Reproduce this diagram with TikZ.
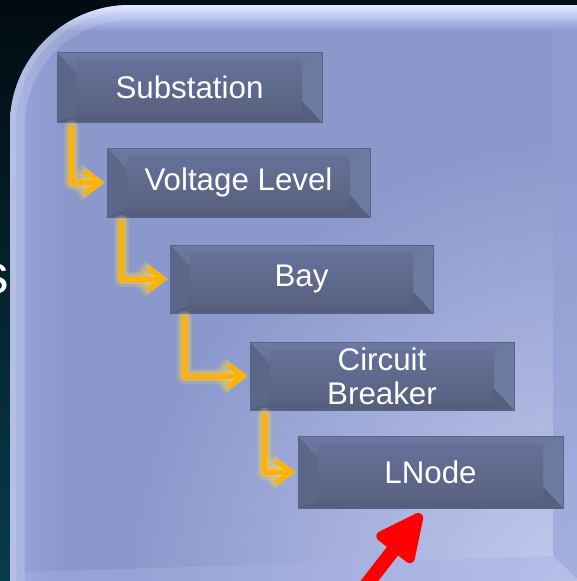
\documentclass[tikz,border=0pt]{standalone}
\usepackage{fontspec}
\setmainfont{Liberation Sans}
\usetikzlibrary{arrows.meta,calc}
\definecolor{bgtop}{HTML}{010B10}
\definecolor{bgbot}{HTML}{083B4B}
\definecolor{panelbase}{HTML}{8A98CC}
\definecolor{paneltopA}{HTML}{D4E0FF}
\definecolor{paneltopB}{HTML}{8E9DD4}
\definecolor{panelleft}{HTML}{9AA7DD}
\definecolor{panelright}{HTML}{909ED3}
\definecolor{panelbottom}{HTML}{A7B2E4}
\definecolor{panelglow}{HTML}{C6CDEE}
\definecolor{boxedge}{HTML}{59638A}
\definecolor{midT}{HTML}{66719A}
\definecolor{midB}{HTML}{58617F}
\definecolor{faceT1}{HTML}{6E79A1}
\definecolor{faceT2}{HTML}{67729A}
\definecolor{faceL}{HTML}{5B6688}
\definecolor{faceR}{HTML}{6D7A9F}
\definecolor{faceB}{HTML}{565F7D}
\definecolor{orangec}{HTML}{FFB300}
\definecolor{orglowc}{HTML}{FFD44A}
\tikzset{
  bev/.style={rectangle, inner sep=0pt, minimum width=264pt, minimum height=69pt,
    text=white, font=\fontsize{31.3}{34}\selectfont, align=center,
    draw=boxedge, line width=.8pt, fill=midB,
    path picture={
      \coordinate (bNW) at (path picture bounding box.north west);
      \coordinate (bNE) at (path picture bounding box.north east);
      \coordinate (bSW) at (path picture bounding box.south west);
      \coordinate (bSE) at (path picture bounding box.south east);
      \fill[faceL] (bNW) -- (bSW) -- ($(bSW)+(20pt,8pt)$) -- ($(bNW)+(20pt,-22pt)$) -- cycle;
      \fill[faceR] (bNE) -- (bSE) -- ($(bSE)+(-20pt,22pt)$) -- ($(bNE)+(-20pt,-8pt)$) -- cycle;
      \shade[top color=faceT1, bottom color=faceT2] (bNW) -- (bNE) -- ($(bNE)+(-20pt,-8pt)$) -- ($(bNW)+(20pt,-22pt)$) -- cycle;
      \fill[faceB] (bSW) -- (bSE) -- ($(bSE)+(-20pt,22pt)$) -- ($(bSW)+(20pt,8pt)$) -- cycle;
      \shade[top color=midT, bottom color=midB] ($(bNW)+(20pt,-8pt)$) rectangle ($(bSE)+(-20pt,8pt)$);
      \fill[faceL] (bNW) -- ($(bNW)+(0pt,-40pt)$) -- ($(bNW)+(20pt,-22pt)$) -- cycle;
      \fill[faceR] (bSE) -- ($(bSE)+(0pt,40pt)$) -- ($(bSE)+(-20pt,22pt)$) -- cycle;
    }},
  orglowA/.style={draw=orglowc, opacity=.22, line width=15pt, line cap=round, line join=round,
    -{Straight Barb[length=15pt,width=24pt]}, shorten >=2pt},
  orglowB/.style={draw=orglowc, opacity=.35, line width=10pt, line cap=round, line join=round,
    -{Straight Barb[length=15pt,width=23pt]}, shorten >=2pt},
  orarrow/.style={draw=orangec, line width=5pt, line cap=round, line join=miter,
    -{Straight Barb[length=15pt,width=22pt]}, shorten >=2pt},
  redshaft/.style={draw=red, line width=14pt, line cap=round},
  redhead/.style={draw=red, fill=red, line width=10pt, line join=round}
}
\begin{document}
\begin{tikzpicture}[x=1pt,y=-1pt]
\useasboundingbox (0,0) rectangle (577,581);
\clip (0,0) rectangle (577,581);
% background
\shade[top color=bgtop, bottom color=bgbot] (0,0) rectangle (577,581);
\node[font=\fontsize{55}{60}\selectfont, text=white, anchor=base east, inner sep=0pt] (stext) at (9,293) {s};
% panel
\fill[panelbase, rounded corners=120pt] (10,5) rectangle (720,720);
\begin{scope}
  \clip[rounded corners=120pt] (10,5) rectangle (720,720);
  \shade[inner color=panelglow, outer color=panelbase] (130,140) rectangle (1050,1060);
  \shade[left color=panelleft, right color=panelbase] (10,0) rectangle (60,600);
  \fill[panelleft] (10,0) rectangle (24,600);
  \fill[panelright, opacity=.6] (553,30) -- (600,-17) -- (600,600) -- (553,556) -- cycle;
  \fill[panelbottom, opacity=.45] (0,600) -- (25,572) -- (553,556) -- (600,600) -- cycle;
  \shade[top color=paneltopA, bottom color=paneltopB] (0,5) -- (600,5) -- (577,30) -- (25,30) -- cycle;
  \draw[white, opacity=.15, line width=30pt, rounded corners=120pt] (10,5) rectangle (720,720);
  \draw[white, opacity=.15, line width=12pt, rounded corners=120pt] (10,5) rectangle (720,720);
\end{scope}
% boxes
\node[bev, minimum width=265pt, minimum height=70pt] (sub) at (189.5,87.5) {Substation};
\node[bev, minimum width=263pt] (vl) at (238.5,182.5) {Voltage Level};
\node[bev, minimum width=263pt, minimum height=68pt] (bay) at (301.5,279) {Bay};
\node[bev, minimum width=264pt, minimum height=68pt] (cb) at (382,376) {Circuit\\Breaker};
\node[bev, minimum width=265pt, minimum height=72pt] (ln) at (430.5,472) {LNode};
% orange connectors
\foreach \a/\b in {sub/vl, vl/bay, bay/cb, cb/ln} {
  \draw[orglowA] ([xshift=15pt,yshift=-5pt]\a.south west) |- (\b.west);
  \draw[orglowB] ([xshift=15pt,yshift=-5pt]\a.south west) |- (\b.west);
  \draw[orarrow] ([xshift=15pt,yshift=-5pt]\a.south west) |- (\b.west);
}
% red arrow
\coordinate (rtip) at ([xshift=-8pt,yshift=-4pt]ln.south);
\coordinate (rtail) at (357,597);
\coordinate (rmid) at ($(rtip)!44pt!(rtail)$);
\coordinate (rtipc) at ($(rtip)!7pt!(rtail)$);
\coordinate (rc1) at ($(rmid)!18pt!90:(rtip)$);
\coordinate (rc2) at ($(rmid)!18pt!-90:(rtip)$);
\draw[redshaft] (rtail) -- (rmid);
\filldraw[redhead] (rtipc) -- (rc1) -- (rc2) -- cycle;
\end{tikzpicture}
\end{document}
